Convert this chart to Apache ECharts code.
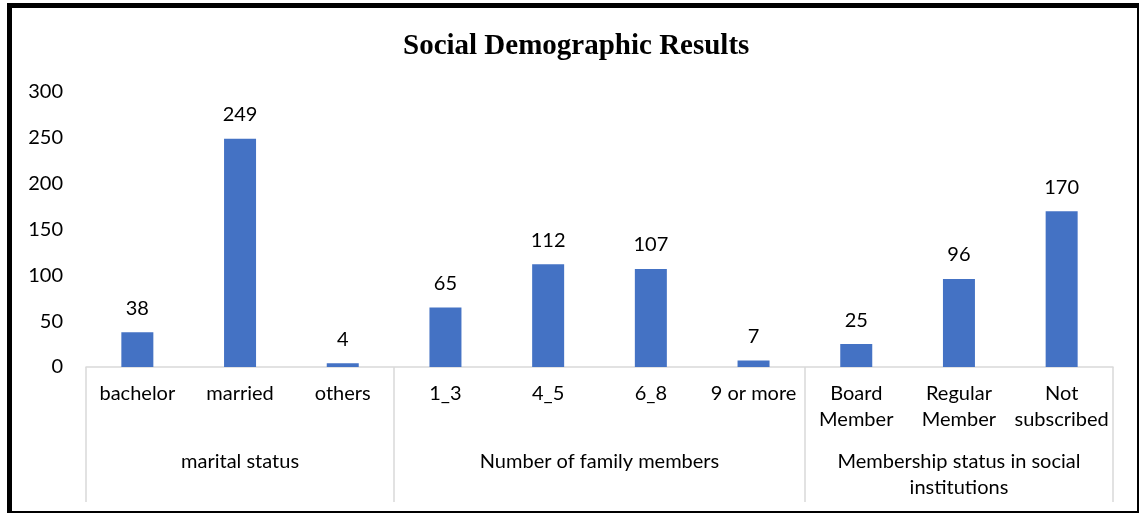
<!DOCTYPE html>
<html>
<head>
<meta charset="utf-8">
<script src="https://cdn.jsdelivr.net/npm/echarts@6/dist/echarts.min.js"></script>
<style>
  html, body { margin: 0; padding: 0; background: #fff; }
  #chart { position: absolute; left: 0; top: 0; width: 1141px; height: 513px; }
  #frame { position: absolute; left: 7px; top: 3px; width: 1132px; height: 510px; box-sizing: border-box;
           border-left: 5px solid #000; border-top: 5px solid #000; border-right: 2px solid #000; border-bottom: 2px solid #000;
           pointer-events: none; }
</style>
</head>
<body>
<div id="chart"></div>
<div id="frame"></div>
<script>
const title = 'Social Demographic Results';
const categories = ['bachelor', 'married', 'others', '1_3', '4_5', '6_8', '9 or more', 'Board\nMember', 'Regular\nMember', 'Not\nsubscribed'];
const values = [38, 249, 4, 65, 112, 107, 7, 25, 96, 170];
const groupNames = ['marital status', 'Number of family members', 'Membership status in social\ninstitutions'];
const groupSizes = [3, 4, 3];
const yTicks = { min: 0, max: 300, interval: 50 };

// group boundaries and centres in category units
const bounds = [0];
groupSizes.forEach(s => bounds.push(bounds[bounds.length - 1] + s));
const centres = groupSizes.map((s, i) => bounds[i] + s / 2);

const font = 'Lato, "Open Sans", sans-serif';
const fs = 20;
const chart = echarts.init(document.getElementById('chart'), null, { renderer: 'canvas' });
chart.setOption({
  animation: false,
  backgroundColor: '#fff',
  title: {
    text: title, left: 398, top: 27,
    textStyle: { fontFamily: '"Liberation Serif", "Times New Roman", serif', fontWeight: 'bold', fontSize: 29, color: '#000' }
  },
  grid: { left: 86, right: 28, top: 92, bottom: 146, containLabel: false },
  xAxis: [
    {
      type: 'category', data: categories, position: 'bottom',
      axisLine: { show: true, lineStyle: { color: '#d9d9d9', width: 1.5 } },
      axisTick: { show: false },
      axisLabel: { interval: 0, margin: 14, fontFamily: font, fontSize: fs, lineHeight: 26, color: '#000', verticalAlign: 'top' }
    },
    {
      type: 'value', min: 0, max: bounds[bounds.length - 1], position: 'bottom',
      axisLine: { show: false },
      splitLine: { show: false },
      axisTick: { show: true, inside: false, length: 135, customValues: bounds, lineStyle: { color: '#d9d9d9', width: 1.5 } },
      axisLabel: {
        show: true, customValues: centres, margin: 82, fontFamily: font, fontSize: fs, lineHeight: 26, color: '#000',
        verticalAlign: 'top', align: 'center',
        formatter: v => { const i = centres.indexOf(v); return i >= 0 ? groupNames[i] : ''; }
      }
    }
  ],
  yAxis: {
    type: 'value', min: yTicks.min, max: yTicks.max, interval: yTicks.interval,
    axisLine: { show: false }, axisTick: { show: false }, splitLine: { show: false },
    axisLabel: { margin: 23, fontFamily: font, fontSize: fs, color: '#000' }
  },
  series: [{
    type: 'bar', data: values, xAxisIndex: 0, barWidth: 32,
    itemStyle: { color: '#4472C4' },
    label: { show: true, position: 'top', distance: 14, fontFamily: font, fontSize: fs, color: '#000' }
  }]
});
</script>
</body>
</html>
